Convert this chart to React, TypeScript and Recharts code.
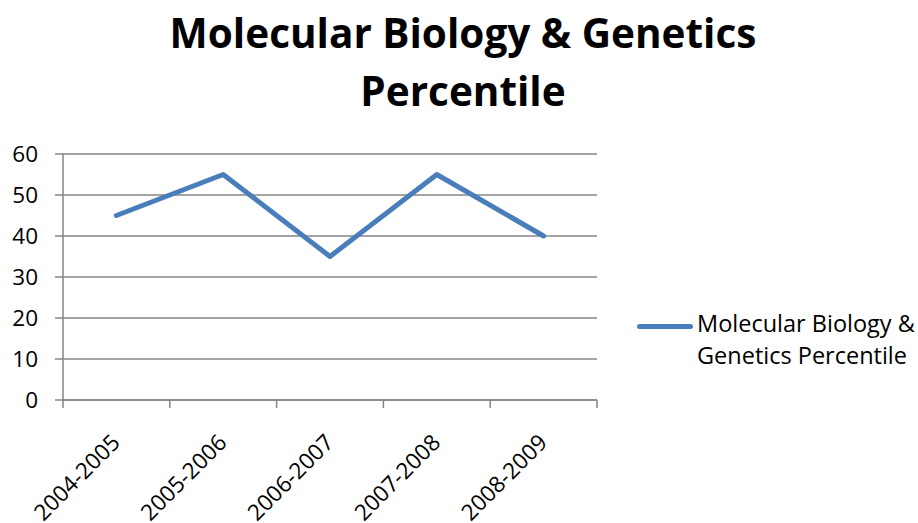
import React from 'react';
import { LineChart, Line, XAxis, YAxis, CartesianGrid } from 'recharts';

const categories = ['2004-2005', '2005-2006', '2006-2007', '2007-2008', '2008-2009'];
const percentile = [45, 55, 35, 55, 40];
const yTicks = [0, 10, 20, 30, 40, 50, 60];

const SERIES = 'Molecular Biology & Genetics Percentile';
const LINE_COLOR = '#4a7ebb';
const AXIS_COLOR = '#868686';
const FONT = '"Open Sans", Lato, sans-serif';
const LABEL_DROP = 44;

const data = categories.map((c, i) => ({ name: c, value: percentile[i] }));

// category label plus Excel-style tick marks on the band edges
const XLabel = (props: any) => {
  const { x, y, payload, index } = props;
  const half = payload && payload.offset ? payload.offset : 0;
  const axisY = y - LABEL_DROP;
  const tx = x + 5;
  return (
    <g>
      <line x1={x - half} x2={x - half} y1={axisY} y2={axisY + 8} stroke={AXIS_COLOR} strokeWidth={1.5} />
      {index === categories.length - 1 && (
        <line x1={x + half} x2={x + half} y1={axisY} y2={axisY + 8} stroke={AXIS_COLOR} strokeWidth={1.5} />
      )}
      <text
        x={tx}
        y={y}
        transform={`rotate(-45, ${tx}, ${y})`}
        textAnchor="end"
        fontSize={22.5}
        fontFamily={FONT}
        fill="#000"
      >
        {payload.value}
      </text>
    </g>
  );
};

const App: React.FC = () => {
  return (
    <div style={{ position: 'absolute', left: 0, top: 0, width: 918, height: 523, background: '#fff', fontFamily: FONT }}>
      <div style={{ position: 'absolute', left: 4, top: 4, width: 918, textAlign: 'center', fontWeight: 700, fontSize: 40.5, lineHeight: '58px', color: '#000' }}>
        Molecular Biology &amp; Genetics
        <br />
        Percentile
      </div>
      <LineChart width={918} height={523} data={data} margin={{ top: 154, right: 321, left: 0, bottom: 23 }}>
        <CartesianGrid vertical={false} stroke={AXIS_COLOR} strokeWidth={1.5} />
        <XAxis
          dataKey="name"
          scale="band"
          stroke={AXIS_COLOR}
          strokeWidth={1.5}
          tickLine={false}
          tickSize={6}
          height={100}
          interval={0}
          tick={<XLabel />}
          tickMargin={38}
        />
        <YAxis
          domain={[0, 60]}
          ticks={yTicks}
          width={63}
          tickSize={8}
          tickMargin={17}
          stroke={AXIS_COLOR}
          strokeWidth={1.5}
          tick={{ fill: '#000', fontSize: 22.5, fontFamily: FONT }}
        />
        <Line
          dataKey="value"
          name={SERIES}
          stroke={LINE_COLOR}
          strokeWidth={5}
          strokeLinecap="round"
          strokeLinejoin="round"
          dot={false}
          isAnimationActive={false}
        />
      </LineChart>
      <div style={{ position: 'absolute', left: 637, top: 326, width: 56, height: 5, marginTop: -2.5, background: LINE_COLOR, borderRadius: 3 }} />
      <div style={{ position: 'absolute', left: 697, top: 307, fontSize: 23.5, lineHeight: '32px', color: '#000', whiteSpace: 'nowrap' }}>
        Molecular Biology &amp;
        <br />
        Genetics Percentile
      </div>
    </div>
  );
};

export default App;
